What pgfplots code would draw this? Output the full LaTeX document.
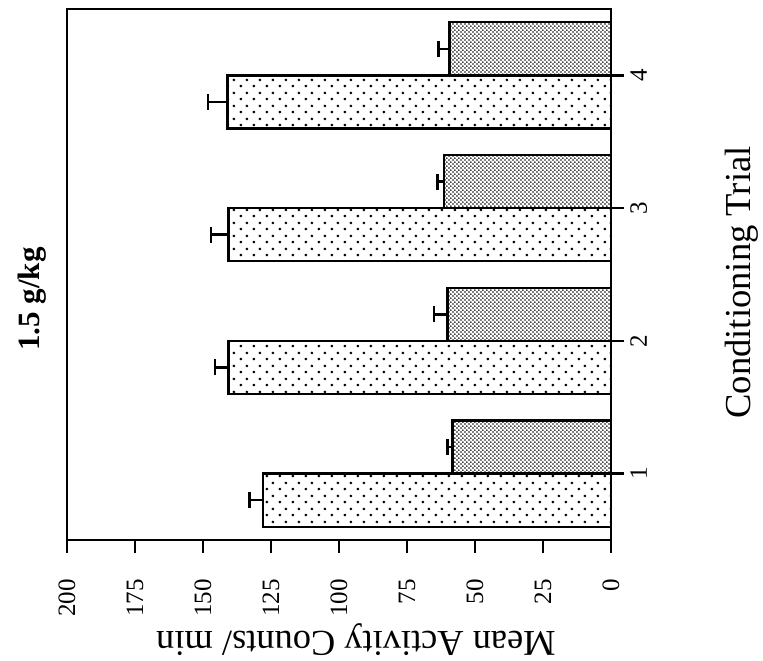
\documentclass[border=0pt]{standalone}
\usepackage{fontspec}
\setmainfont{Liberation Serif}
\usepackage{pgfplots}
\pgfplotsset{compat=1.18}
\usepackage{pgfplotstable}
\usetikzlibrary{patterns}

% light dots (first bar of each trial) and dense dots (second bar)
\pgfdeclarepatternformonly{sparsedots}{\pgfqpoint{0pt}{0pt}}{\pgfqpoint{6.25pt}{6.5pt}}{\pgfqpoint{6.25pt}{6.5pt}}{%
  \pgfpathcircle{\pgfqpoint{1.5pt}{1.6pt}}{0.75pt}%
  \pgfpathcircle{\pgfqpoint{4.625pt}{4.85pt}}{0.75pt}%
  \pgfusepath{fill}}
\pgfdeclarepatternformonly{densedots}{\pgfqpoint{0pt}{0pt}}{\pgfqpoint{2.2pt}{2.2pt}}{\pgfqpoint{2.2pt}{2.2pt}}{%
  \pgfpathcircle{\pgfqpoint{0.55pt}{0.55pt}}{0.5pt}%
  \pgfpathcircle{\pgfqpoint{1.65pt}{1.65pt}}{0.5pt}%
  \pgfusepath{fill}}

% pos = where the bar sits on the trial axis (trial -/+ half a bar)
\pgfplotstableread{
trial pos mean err
1 0.8 128.0 4.8
2 1.8 140.6 5.0
3 2.8 140.6 6.4
4 3.8 141.0 7.2
}\firstbar
\pgfplotstableread{
trial pos mean err
1 1.2 58.3 1.8
2 2.2 60.1 4.9
3 3.2 61.3 2.5
4 4.2 59.4 4.0
}\secondbar

\begin{document}
\begin{tikzpicture}
  \begin{axis}[
      name=ax,
      scale only axis,
      width=272pt, height=265.5pt,
      line width=1.3pt,
      x dir=reverse,
      xmin=0, xmax=200,
      ymin=0.5, ymax=4.5,
      xtick={0,25,...,200},
      xticklabels={0,25,50,75,100,125,150,175,200},
      ytick={1,2,3,4},
      yticklabels={1,2,3,4},
      xtick pos=left, ytick pos=right,
      yticklabel pos=right,
      tick align=outside,
      major tick length=6.5pt,
      axis line style={line width=1.3pt},
      every tick/.style={black, line width=1.3pt},
      xticklabel style={rotate=90, anchor=east, inner sep=0pt, font=\fontsize{12.5}{12.5}\selectfont},
      yticklabel style={rotate=90, anchor=north, inner sep=0pt, font=\fontsize{12.5}{12.5}\selectfont},
      xticklabel shift=12.5pt, yticklabel shift=2.5pt,
      clip=false,
    ]
    \addplot[xbar, bar width=0.4, bar shift=0, draw=black, line width=1.2pt, pattern=sparsedots,
      error bars/.cd, x dir=plus, x explicit,
      error bar style={line width=1.3pt, black},
      error mark options={rotate=90, line width=1.3pt, mark size=4pt, black}]
      table[x=mean, y=pos, x error=err]{\firstbar};
    \addplot[xbar, bar width=0.4, bar shift=0, draw=black, line width=1.2pt, pattern=densedots,
      error bars/.cd, x dir=plus, x explicit,
      error bar style={line width=1.3pt, black},
      error mark options={rotate=90, line width=1.3pt, mark size=4pt, black}]
      table[x=mean, y=pos, x error=err]{\secondbar};
  \end{axis}
  \node[rotate=90, anchor=base, font=\bfseries\fontsize{15.5}{15.5}\selectfont]
    at ([xshift=-13.5pt, yshift=120.5pt]ax.south west) {1.5 g/kg};
  \node[rotate=90, anchor=base, font=\fontsize{18.3}{18.3}\selectfont]
    at ([xshift=69.5pt, yshift=128.75pt]ax.south east) {Conditioning Trial};
  \node[rotate=180, anchor=base, font=\fontsize{18.2}{18.2}\selectfont]
    at ([xshift=144.5pt, yshift=-46pt]ax.south west) {Mean Activity Counts/ min};
  \pgfresetboundingbox
  \path ([xshift=-33.5pt, yshift=-60.5pt]ax.south west) rectangle ([xshift=76pt, yshift=4.5pt]ax.north east);
\end{tikzpicture}
\end{document}
